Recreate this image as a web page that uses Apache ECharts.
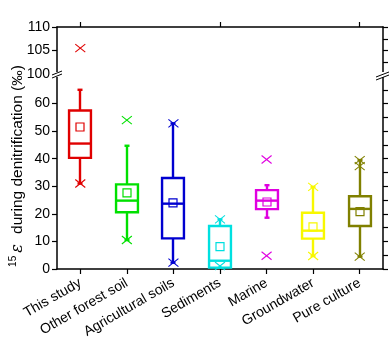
<!DOCTYPE html>
<html><head><meta charset="utf-8">
<script src="https://cdn.jsdelivr.net/npm/echarts@6/dist/echarts.min.js"></script>
<style>html,body{margin:0;padding:0;background:#fff}#c{width:391px;height:360px}</style>
</head><body><div id="c"></div>
<script>
const categories = ['This study','Other forest soil','Agricultural soils','Sediments','Marine','Groundwater','Pure culture'];
const colors = ['#e00000','#00e000','#0000d0','#00e0e0','#e000e0','#f8f800','#808000'];
const whiskerLow  = [31,   10.5, 2.3,  0.5, 18.6, 4.7,  4.5];
const q1          = [40.3, 20.6, 11.1, 0.5, 21.7, 11.0, 15.6];
const median      = [45.5, 24.8, 23.7, 3.0, 24.8, 13.9, 21.8];
const q3          = [57.5, 30.7, 33.0, 15.6, 28.6, 20.4, 26.4];
const whiskerHigh = [65,   44.7, 52.8, 18.0, 30.4, 29.8, 39.5];
const means       = [51.5, 27.6, 24.0, 8.1, 24.3, 15.3, 20.8];
const crossLow    = [31,   10.5, 2.3,  1.1, 4.8,  4.7,  4.5];
const crossHigh   = [105.5, 54,  52.8, 18,  39.7, 29.8, 39.5];
const crossExtra  = [null, null, null, null, null, null, 37.3];
const lowerTicks  = [0,10,20,30,40,50,60];
const lowerRightTicks = [0,5,10,15,20,25,30,35,40,45,50,55,60,65];
const upperTicks  = [100,105,110];

const FONT = "'Liberation Sans', Arial, sans-serif";

const boxData = categories.map((c,i)=>[i, whiskerLow[i], q1[i], median[i], q3[i], whiskerHigh[i], means[i]]);
const crossLowerData = [], crossUpperData = [];
categories.forEach((c,i)=>{
  [crossLow[i], crossHigh[i], crossExtra[i]].forEach(v=>{
    if (v == null) return;
    (v >= 100 ? crossUpperData : crossLowerData).push([i, v]);
  });
});

function renderBox(params, api) {
  const i = api.value(0);
  const c = colors[i];
  const bw = api.size([1, 0])[0] * 0.47;
  const lo = api.coord([i, api.value(1)]);
  const b1 = api.coord([i, api.value(2)]);
  const md = api.coord([i, api.value(3)]);
  const b3 = api.coord([i, api.value(4)]);
  const hi = api.coord([i, api.value(5)]);
  const mn = api.coord([i, api.value(6)]);
  const x = Math.round(b1[0]);
  const lw = 2.4;
  const st = {stroke: c, lineWidth: lw, fill: null};
  return {type:'group', children:[
    {type:'line', shape:{x1:x,y1:b3[1],x2:x,y2:hi[1]}, style: st},
    {type:'line', shape:{x1:x,y1:b1[1],x2:x,y2:lo[1]}, style: st},
    {type:'line', shape:{x1:x-2.5,y1:hi[1],x2:x+2.5,y2:hi[1]}, style: st},
    {type:'line', shape:{x1:x-2.5,y1:lo[1],x2:x+2.5,y2:lo[1]}, style: st},
    {type:'rect', shape:{x:x-bw/2,y:b3[1],width:bw,height:b1[1]-b3[1]}, style:{stroke:c,lineWidth:lw,fill:'#fff'}},
    {type:'line', shape:{x1:x-bw/2,y1:md[1],x2:x+bw/2,y2:md[1]}, style: st},
    {type:'rect', shape:{x:x-4,y:mn[1]-4,width:8,height:8}, style:{stroke:c,lineWidth:1.2,fill:null}}
  ]};
}
function renderCross(params, api) {
  const i = api.value(0);
  const p = api.coord([i, api.value(1)]);
  const c = colors[i];
  const s = 5;
  const st = {stroke: c, lineWidth: 1.1};
  return {type:'group', children:[
    {type:'line', shape:{x1:p[0]-s,y1:p[1]-s*0.8,x2:p[0]+s,y2:p[1]+s*0.8}, style: st},
    {type:'line', shape:{x1:p[0]-s,y1:p[1]+s*0.8,x2:p[0]+s,y2:p[1]-s*0.8}, style: st}
  ]};
}

const axisLine = {show:true, lineStyle:{color:'#000', width:1.5}};
const axisTick = {show:true, inside:false, length:5, lineStyle:{color:'#000', width:1.2}};
const axisLabel = {color:'#000', fontSize:14, fontFamily:FONT, margin:7};

const chart = echarts.init(document.getElementById('c'), null, {renderer:'canvas'});
chart.setOption({
  animation:false,
  backgroundColor:'#fff',
  grid:[
    {left:57, right:8, top:27, height:47},
    {left:57, right:8, top:76, height:193}
  ],
  xAxis:[
    {type:'category', gridIndex:0, position:'top', data:categories,
     axisLine, axisTick:Object.assign({alignWithLabel:true}, axisTick), axisLabel:{show:false}, splitLine:{show:false}},
    {type:'category', gridIndex:1, position:'bottom', data:categories,
     axisLine, axisTick:Object.assign({alignWithLabel:true}, axisTick),
     axisLabel:{color:'#000', fontSize:14, fontFamily:FONT, rotate:30, margin:13, interval:0}, splitLine:{show:false}}
  ],
  yAxis:[
    {type:'value', gridIndex:0, position:'left', min:100, max:110, interval:5,
     axisLine, axisTick, axisLabel:Object.assign({customValues:upperTicks}, axisLabel), splitLine:{show:false}},
    {type:'value', gridIndex:0, position:'right', min:100, max:110, interval:2.5,
     axisLine, axisTick, axisLabel:{show:false}, splitLine:{show:false}},
    {type:'value', gridIndex:1, position:'left', min:0, max:70, interval:10,
     axisLine, axisTick:Object.assign({customValues:lowerTicks}, axisTick),
     axisLabel:Object.assign({customValues:lowerTicks}, axisLabel), splitLine:{show:false}},
    {type:'value', gridIndex:1, position:'right', min:0, max:70, interval:5,
     axisLine, axisTick:Object.assign({customValues:lowerRightTicks}, axisTick),
     axisLabel:{show:false}, splitLine:{show:false}}
  ],
  series:[
    {type:'custom', xAxisIndex:1, yAxisIndex:2, data:boxData, renderItem:renderBox,
     encode:{x:0, y:[1,2,3,4,5,6]}, clip:false},
    {type:'custom', xAxisIndex:1, yAxisIndex:2, data:crossLowerData, renderItem:renderCross,
     encode:{x:0, y:1}, clip:false, z:3},
    {type:'custom', xAxisIndex:0, yAxisIndex:0, data:crossUpperData, renderItem:renderCross,
     encode:{x:0, y:1}, clip:false, z:3}
  ],
  graphic:[
    {type:'rect', shape:{x:52, y:72, width:10, height:5}, style:{fill:'#fff'}, z:100},
    {type:'line', shape:{x1:52, y1:75, x2:62, y2:71}, style:{stroke:'#000', lineWidth:1}, z:101},
    {type:'line', shape:{x1:52, y1:78, x2:62, y2:74}, style:{stroke:'#000', lineWidth:1}, z:101},
    {type:'rect', shape:{x:378, y:72, width:13, height:5}, style:{fill:'#fff'}, z:100},
    {type:'line', shape:{x1:376, y1:77, x2:389, y2:72}, style:{stroke:'#000', lineWidth:1}, z:101},
    {type:'line', shape:{x1:376, y1:80, x2:389, y2:75}, style:{stroke:'#000', lineWidth:1}, z:101},
    {type:'text', x:18, y:166, rotation:Math.PI/2, z:10,
     style:{text:'{s|15}{e|ε} during denitrification (‰)', align:'center', verticalAlign:'middle',
       fontSize:15.5, fontFamily:FONT, fill:'#000',
       rich:{s:{fontSize:10, fontFamily:FONT, verticalAlign:'top', lineHeight:19},
             e:{fontSize:16, fontFamily:'DejaVu Serif, serif', fontStyle:'italic', padding:[0,6,0,3]}}}}
  ]
});
</script>
</body></html>
